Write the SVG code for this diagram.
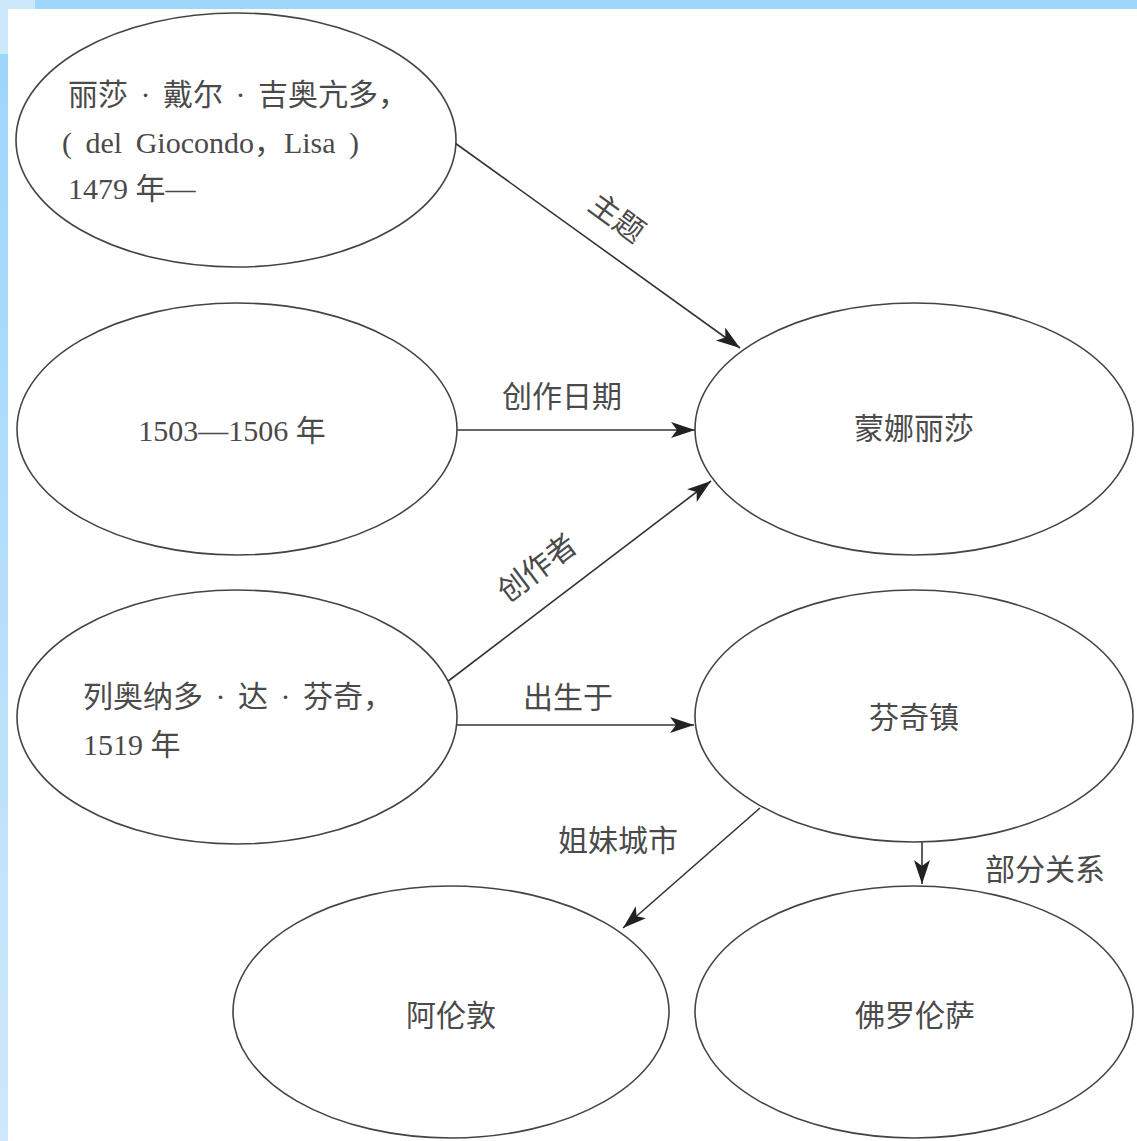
<svg xmlns="http://www.w3.org/2000/svg" width="1137" height="1141" viewBox="0 0 1137 1141">
<defs>
<linearGradient id="leftStrip" x1="0" y1="0" x2="0" y2="1">
<stop offset="0" stop-color="#9dd6fb"/>
<stop offset="1" stop-color="#cfe8fb"/>
</linearGradient>
<marker id="arrow" markerUnits="userSpaceOnUse" markerWidth="26" markerHeight="18" refX="24" refY="8" orient="auto">
<path d="M0,0 L24,8 L0,16 L6,8 z" fill="#222"/>
</marker>
</defs>
<style>
.node ellipse { fill: #ffffff; stroke: #444; stroke-width: 1.6; }
.t { font-family: "Liberation Serif", "Noto Sans CJK SC", serif; font-size: 30px; fill: #4a4a4a; }
.c { text-anchor: middle; }
.edge line { stroke: #333; stroke-width: 1.6; marker-end: url(#arrow); }
</style>
<rect x="0" y="0" width="1137" height="1141" fill="#ffffff"/>
<rect x="35" y="0" width="1102" height="9" fill="#9dd8fb"/>
<rect x="0" y="0" width="35" height="9" fill="#cce9fa"/>
<rect x="0" y="9" width="8" height="45" fill="#cce9fa"/>
<rect x="0" y="54" width="8" height="1087" fill="url(#leftStrip)"/>

<g id="edges" class="edge">
<line x1="455" y1="143" x2="740" y2="348"/>
<line x1="455" y1="430" x2="695" y2="430"/>
<line x1="447" y1="682" x2="711" y2="481"/>
<line x1="453" y1="725" x2="694" y2="725"/>
<line x1="760" y1="808" x2="623" y2="928"/>
<line x1="922" y1="842" x2="922" y2="884"/>
</g>

<g id="edge-labels">
<text class="t c" x="617" y="218" dominant-baseline="central" transform="rotate(36 617 218)">主题</text>
<text class="t c" x="562" y="407">创作日期</text>
<text class="t c" x="537" y="568" dominant-baseline="central" transform="rotate(-37 537 568)">创作者</text>
<text class="t c" x="568" y="708">出生于</text>
<text class="t c" x="618" y="851">姐妹城市</text>
<text class="t c" x="1045" y="880">部分关系</text>
</g>

<g id="node-lisa" class="node">
<ellipse cx="236" cy="140" rx="220" ry="127"/>
<text class="t" x="68" y="105" word-spacing="5">丽莎 · 戴尔 · 吉奥亢多，</text>
<text class="t" x="62" y="153" word-spacing="6">( del Giocondo，Lisa )</text>
<text class="t" x="68" y="199">1479 年—</text>
</g>

<g id="node-date" class="node">
<ellipse cx="237" cy="429" rx="220" ry="126"/>
<text class="t c" x="232" y="441">1503—1506 年</text>
</g>

<g id="node-leonardo" class="node">
<ellipse cx="237" cy="717" rx="220" ry="127"/>
<text class="t" x="83" y="707" word-spacing="5">列奥纳多 · 达 · 芬奇，</text>
<text class="t" x="83" y="755">1519 年</text>
</g>

<g id="node-monalisa" class="node">
<ellipse cx="914" cy="429" rx="219" ry="126"/>
<text class="t c" x="914" y="439">蒙娜丽莎</text>
</g>

<g id="node-vinci" class="node">
<ellipse cx="914" cy="716" rx="219" ry="126"/>
<text class="t c" x="914" y="728">芬奇镇</text>
</g>

<g id="node-allentown" class="node">
<ellipse cx="451" cy="1012" rx="218" ry="126"/>
<text class="t c" x="451" y="1026">阿伦敦</text>
</g>

<g id="node-florence" class="node">
<ellipse cx="914" cy="1012" rx="219" ry="126"/>
<text class="t c" x="915" y="1026">佛罗伦萨</text>
</g>
</svg>
